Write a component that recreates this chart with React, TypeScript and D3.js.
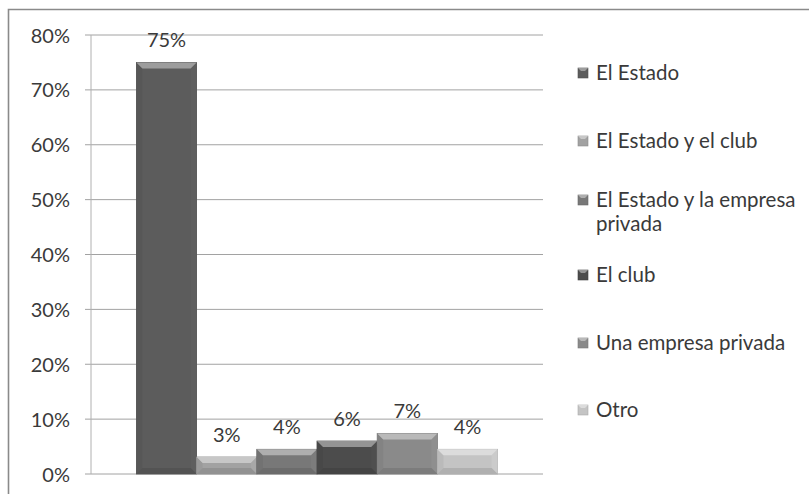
import React from "react";
import * as d3 from "d3";

const categories = [
  "El Estado",
  "El Estado y el club",
  "El Estado y la empresa privada",
  "El club",
  "Una empresa privada",
  "Otro",
];
const values = [75, 3.1, 4.5, 6.0, 7.4, 4.5];
const valueLabels = ["75%", "3%", "4%", "6%", "7%", "4%"];
const colors = ["#5c5c5c", "#a2a2a2", "#787878", "#4c4c4c", "#8a8a8a", "#c4c4c4"];
const yTicks = [0, 10, 20, 30, 40, 50, 60, 70, 80];
const legendLines = [
  ["El Estado"],
  ["El Estado y el club"],
  ["El Estado y la empresa", "privada"],
  ["El club"],
  ["Una empresa privada"],
  ["Otro"],
];

const W = 809;
const H = 494;
const FONT = "Lato, 'Open Sans', sans-serif";
const TEXT = "#3a3a3a";

function Bar({ x, y, w, h, color }: { x: number; y: number; w: number; h: number; color: string }) {
  const c = d3.color(color)!;
  const b = Math.min(6, h / 2, w / 2);
  const light = d3.interpolateRgb(color, "#ffffff")(0.4);
  const dark = c.darker(0.3).formatHex();
  const side = c.darker(0.15).formatHex();
  const sideR = c.brighter(0.1).formatHex();
  return (
    <g>
      <rect x={x} y={y} width={w} height={h} fill={color} stroke={c.darker(0.4).formatHex()} strokeWidth={0.8} />
      <polygon points={`${x},${y} ${x + b},${y + b} ${x + b},${y + h - b} ${x},${y + h}`} fill={side} />
      <polygon points={`${x + w},${y} ${x + w - b},${y + b} ${x + w - b},${y + h - b} ${x + w},${y + h}`} fill={sideR} />
      <polygon points={`${x},${y + h} ${x + b},${y + h - b} ${x + w - b},${y + h - b} ${x + w},${y + h}`} fill={dark} />
      <polygon points={`${x},${y} ${x + w},${y} ${x + w - b},${y + b} ${x + b},${y + b}`} fill={light} />
    </g>
  );
}

export default function App() {
  const plotLeft = 91;
  const plotRight = 543;
  const y = d3.scaleLinear().domain([0, 80]).range([474, 35]);
  const barW = 60.2;
  const groupW = barW * categories.length;
  const groupX = (plotLeft + plotRight) / 2 - groupW / 2;
  const x = d3
    .scaleBand<string>()
    .domain(categories)
    .range([groupX, groupX + groupW])
    .padding(0);

  const legendBase = [80, 148, 207, 282, 350, 417];

  return (
    <svg
      width={W}
      height={H}
      style={{ position: "absolute", left: 0, top: 0, background: "#fff" }}
      fontFamily={FONT}
    >
      <rect x={0} y={0} width={W} height={H} fill="#fff" />
      <path d={`M8.5,${H + 2} L8.5,9.5 L${W + 2},9.5`} fill="none" stroke="#8a8a8a" strokeWidth={1.6} />
      {yTicks.map((t) => (
        <g key={t}>
          <line x1={85} x2={plotRight} y1={y(t)} y2={y(t)} stroke="#a2a2a2" strokeWidth={1} />
          <text x={70} y={y(t) + 7.5} textAnchor="end" fontSize={20} fill={TEXT}>
            {t}%
          </text>
        </g>
      ))}
      <line x1={plotLeft} x2={plotLeft} y1={y(80)} y2={y(0)} stroke="#b0b0b0" strokeWidth={1} />
      {categories.map((c, i) => {
        const x0 = x(c)!;
        const y0 = y(values[i]);
        return (
          <g key={c}>
            <Bar x={x0} y={y0} w={x.bandwidth()} h={y(0) - y0} color={colors[i]} />
            <text x={x0 + x.bandwidth() / 2} y={y0 - 15} textAnchor="middle" fontSize={20} fill={TEXT}>
              {valueLabels[i]}
            </text>
          </g>
        );
      })}
      {categories.map((c, i) => {
        const ly = legendBase[i] - 7;
        const col = d3.color(colors[i])!;
        return (
          <g key={c}>
            <rect x={578} y={ly - 5} width={10} height={10} fill={colors[i]} stroke={col.darker(0.4).formatHex()} strokeWidth={0.6} />
            <polygon points={`${578},${ly - 5} ${588},${ly - 5} ${585},${ly - 2} ${581},${ly - 2}`} fill={d3.interpolateRgb(colors[i], "#fff")(0.4)} />
            {legendLines[i].map((t, j) => (
              <text key={j} x={596} y={legendBase[i] + j * 24} fontSize={20.5} fill={TEXT}>
                {t}
              </text>
            ))}
          </g>
        );
      })}
    </svg>
  );
}
